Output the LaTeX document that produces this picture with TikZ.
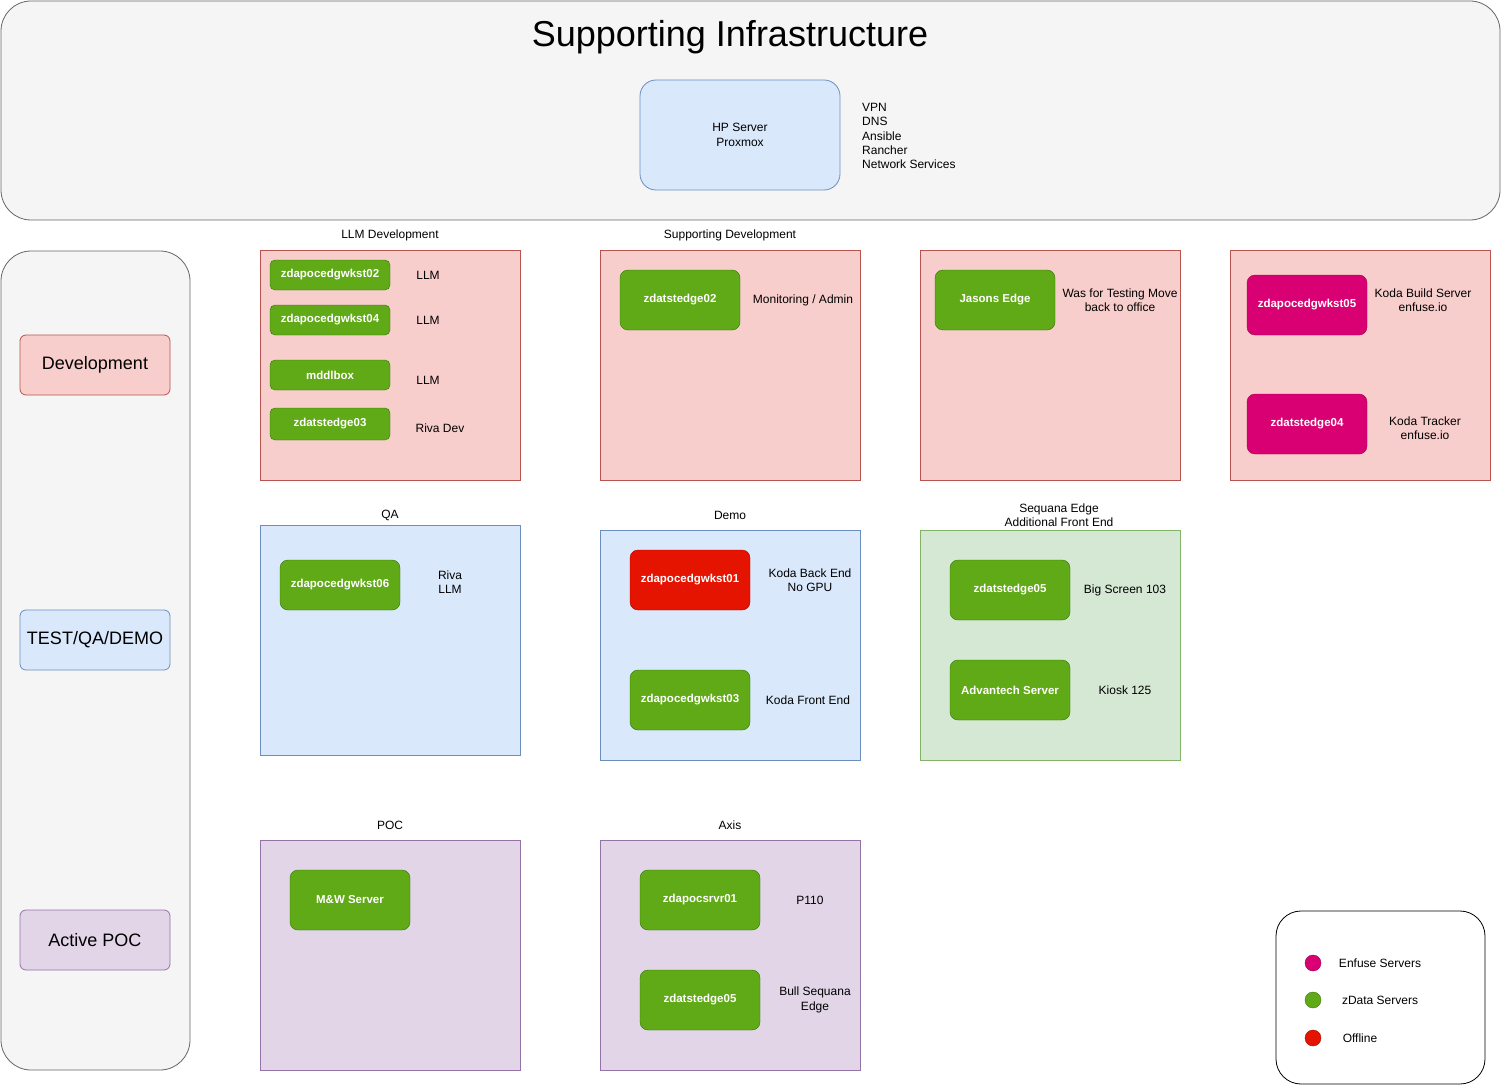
\documentclass[tikz,border=0pt]{standalone}
\usepackage{fontspec}
\setmainfont{Liberation Sans}
\begin{document}
\begin{tikzpicture}[x=1pt,y=-1pt,
  panel/.style={draw=black!60, fill=black!4, rounded corners=30pt, line width=0.8pt},
  tier/.style={draw=#1, line width=0.8pt, rounded corners=6pt, minimum width=150pt, minimum height=60pt, font=\fontsize{18}{21}\selectfont},
  grp/.style={draw=#1, line width=0.7pt},
  srv/.style={draw=srvgreenD, fill=srvgreen, text=white, rounded corners=8pt, minimum width=120pt, minimum height=60pt, font=\fontsize{11.5}{13}\selectfont\bfseries, inner sep=1pt},
  srvs/.style={srv, minimum height=30pt, rounded corners=5pt},
  srvE/.style={srv, draw=enfD, fill=enf},
  srvX/.style={srv, draw=offD, fill=off},
  lbl/.style={align=center, font=\fontsize{12}{14.5}\selectfont, inner sep=0pt},
  dot/.style={circle, minimum size=16pt, inner sep=0pt, draw=#1!70!black, fill=#1}
]
\definecolor{srvgreen}{HTML}{60A917}
\definecolor{srvgreenD}{HTML}{2D7600}
\definecolor{enf}{HTML}{D80073}
\definecolor{enfD}{HTML}{A50040}
\definecolor{off}{HTML}{E51400}
\definecolor{offD}{HTML}{B20000}
\definecolor{pinkF}{HTML}{F8CECC}
\definecolor{pinkD}{HTML}{B85450}
\definecolor{blueF}{HTML}{DAE8FC}
\definecolor{blueD}{HTML}{6C8EBF}
\definecolor{greenF}{HTML}{D5E8D4}
\definecolor{greenD}{HTML}{82B366}
\definecolor{purpF}{HTML}{E1D5E7}
\definecolor{purpD}{HTML}{9673A6}

\useasboundingbox (0,0) rectangle (1502,1086);

% top panel
\draw[panel] (1,1) rectangle (1500,220);
\node[lbl, font=\fontsize{36}{40}\selectfont] (title) at (730,37) {Supporting Infrastructure};
\node[draw=blueD, fill=blueF, line width=0.8pt, rounded corners=16pt, minimum width=200pt, minimum height=110pt, lbl] (hp) at (740,135) {HP Server\\Proxmox};
\node[lbl, align=left, anchor=west, font=\fontsize{12}{14.3}\selectfont] (svc) at (862,136) {VPN\\DNS\\Ansible\\Rancher\\Network Services};

% left panel
\draw[panel] (1,251) rectangle (190,1070);
\node[tier=pinkD, fill=pinkF] (dev) at (95,365) {Development};
\node[tier=blueD, fill=blueF] (test) at (95,640) {TEST/QA/DEMO};
\node[tier=purpD, fill=purpF] (apoc) at (95,940) {Active POC};

% group containers
\draw[grp=pinkD, fill=pinkF] (260,250) rectangle (520,480);
\draw[grp=pinkD, fill=pinkF] (600,250) rectangle (860,480);
\draw[grp=pinkD, fill=pinkF] (920,250) rectangle (1180,480);
\draw[grp=pinkD, fill=pinkF] (1230,250) rectangle (1490,480);
\draw[grp=blueD, fill=blueF] (260,525) rectangle (520,755);
\draw[grp=blueD, fill=blueF] (600,530) rectangle (860,760);
\draw[grp=greenD, fill=greenF] (920,530) rectangle (1180,760);
\draw[grp=purpD, fill=purpF] (260,840) rectangle (520,1070);
\draw[grp=purpD, fill=purpF] (600,840) rectangle (860,1070);

\node[lbl] (gLLM) at (390,235) {LLM Development};
\node[lbl] (gSup) at (730,235) {Supporting Development};
\node[lbl] (gQA) at (390,515) {QA};
\node[lbl] (gDemo) at (730,515) {Demo};
\node[lbl] (gSeq) at (1059,515) {Sequana Edge\\Additional Front End};
\node[lbl] (gPOC) at (390,825) {POC};
\node[lbl] (gAxis) at (730,825) {Axis};

% LLM development
\node[srvs] (w02) at (330,275) {zdapocedgwkst02};
\node[srvs] (w04) at (330,320) {zdapocedgwkst04};
\node[srvs] (mddl) at (330,375) {mddlbox};
\node[srvs, minimum height=32pt] (e03) at (330,424) {zdatstedge03};
\node[lbl] (l1) at (428,275) {LLM};
\node[lbl] (l2) at (428,320) {LLM};
\node[lbl] (l3) at (428,380) {LLM};
\node[lbl] (l4) at (440,428) {Riva Dev};

% supporting development
\node[srv] (e02) at (680,300) {zdatstedge02};
\node[lbl] (l5) at (803,300) {Monitoring / Admin};

% Jasons
\node[srv] (je) at (995,300) {Jasons Edge};
\node[lbl] (l6) at (1120,300) {Was for Testing Move\\back to office};

% enfuse
\node[srvE] (w05) at (1307,305) {zdapocedgwkst05};
\node[lbl] (l7) at (1423,300) {Koda Build Server\\enfuse.io};
\node[srvE] (e04) at (1307,424) {zdatstedge04};
\node[lbl] (l8) at (1425,428) {Koda Tracker\\enfuse.io};

% QA
\node[srv, minimum height=50pt] (w06) at (340,585) {zdapocedgwkst06};
\node[lbl] (l9) at (450,582) {Riva\\LLM};

% Demo
\node[srvX] (w01) at (690,580) {zdapocedgwkst01};
\node[lbl] (l10) at (810,580) {Koda Back End\\No GPU};
\node[srv] (w03) at (690,700) {zdapocedgwkst03};
\node[lbl] (l11) at (808,700) {Koda Front End};

% Sequana
\node[srv] (e05a) at (1010,590) {zdatstedge05};
\node[lbl] (l12) at (1125,590) {Big Screen 103};
\node[srv] (adv) at (1010,690) {Advantech Server};
\node[lbl] (l13) at (1125,690) {Kiosk 125};

% POC
\node[srv] (mw) at (350,900) {M\&W Server};

% Axis
\node[srv] (s01) at (700,900) {zdapocsrvr01};
\node[lbl] (l14) at (810,900) {P110};
\node[srv] (e05b) at (700,1000) {zdatstedge05};
\node[lbl] (l15) at (815,1000) {Bull Sequana\\Edge};

% legend
\draw[draw=black, fill=white, rounded corners=25pt, line width=0.8pt] (1276,911) rectangle (1485,1084);
\node[dot=enf] (d1) at (1313,963) {};
\node[dot=srvgreen] (d2) at (1313,1000) {};
\node[dot=off] (d3) at (1313,1038) {};
\node[lbl] (k1) at (1380,963) {Enfuse Servers};
\node[lbl] (k2) at (1380,1000) {zData Servers};
\node[lbl] (k3) at (1360,1038) {Offline};
\end{tikzpicture}
\end{document}
